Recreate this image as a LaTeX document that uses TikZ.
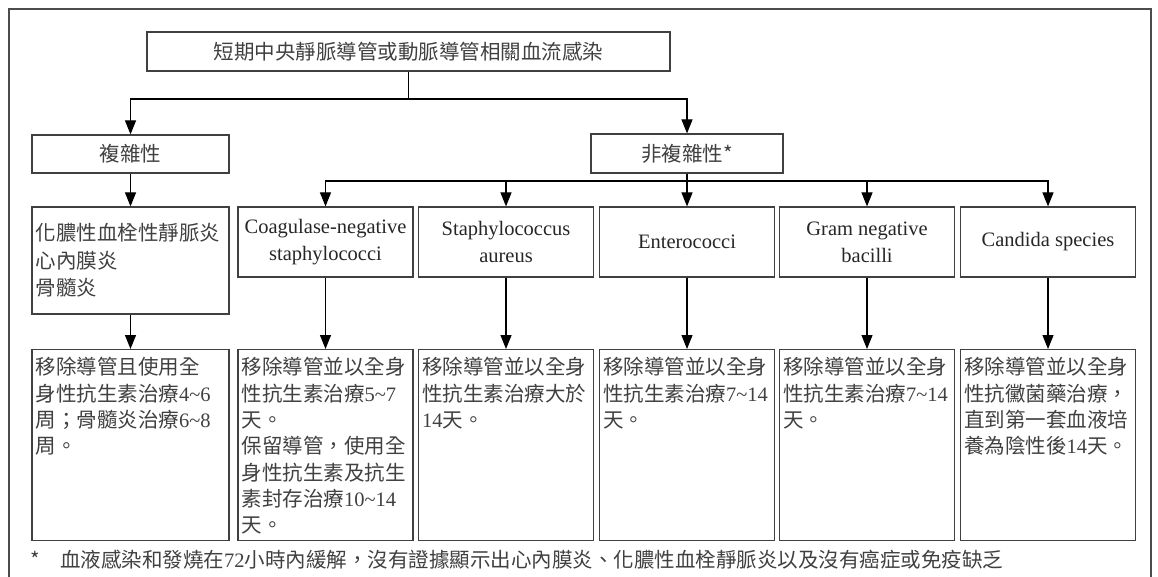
\documentclass[tikz,border=0pt]{standalone}
\usepackage{fontspec}
\setmainfont{Noto Sans CJK TC}
\newfontfamily\latin{Liberation Serif}
\newcommand\tms[1]{{\latin #1}}
\usetikzlibrary{arrows.meta}
\usetikzlibrary{math}

\tikzset{
  frame/.style={draw=black!70, line width=1.2pt},
  box/.style={draw=black!75, line width=1.2pt, rectangle, inner sep=0pt, text=black!75,
    font=\fontsize{20.5}{27.3}\selectfont},
  catbox/.style={box, minimum width=175, minimum height=70, align=center, text=black!85,
    font=\latin\fontsize{20.5}{27.3}\selectfont},
  treat/.style={box, anchor=north, minimum width=175, minimum height=191,
    inner xsep=3.5pt, inner ysep=3pt, font=\fontsize{20.5}{26.3}\selectfont},
  wire/.style={black, line width=1.2pt},
  link/.style={wire, -{Triangle[length=14pt,width=11pt]}},
}
\newcommand\toptext[2][168pt]{\parbox[c][185pt][t]{#1}{\vspace*{5pt}#2}}

\begin{document}
\begin{tikzpicture}[x=1pt,y=-1pt]
      \tikzmath{
        \yCat = 242;
        \yTreat = 349;
        \xA = 325.5;
        \xB = 506;
        \xC = 687;
        \xD = 867;
        \xE = 1048;
      }

      \useasboundingbox (0,0) rectangle (1158,577);
      \draw[frame] (9,577) -- (9,9) -- (1151,9) -- (1151,577);

      % top levels
      \node[box, minimum width=523, minimum height=39] (main) at (408.5,51.5)
        {短期中央靜脈導管或動脈導管相關血流感染};
      \node[box, minimum width=197, minimum height=38] (cpx) at (130.5,154) {複雜性};
      \node[box, minimum width=192, minimum height=39] (ncpx) at (687,153.5) {非複雜性*};

      % complicated branch
      \node[box, minimum width=197, minimum height=107, align=left, text width=190pt,
        inner xsep=3.5pt] (sev) at (130.5,260.5)
        {化膿性血栓性靜脈炎\\心內膜炎\\骨髓炎};
      \node[treat, minimum width=197] (tsev) at (130.5,\yTreat)
        {\toptext[190pt]{移除導管且使用全\\身性抗生素治療\tms{4\textasciitilde6}\\周；骨髓炎治療\tms{6\textasciitilde8}\\周。}};

      % organisms
      \node[catbox] (c1) at (\xA,\yCat) {Coagulase-negative\\staphylococci};
      \node[catbox] (c2) at (\xB,\yCat) {Staphylococcus\\aureus};
      \node[catbox] (c3) at (\xC,\yCat) {Enterococci};
      \node[catbox] (c4) at (\xD,\yCat) {Gram negative\\bacilli};
      \node[catbox] (c5) at (\xE,\yCat) {Candida species};

      % treatments
      \node[treat] (t1) at (\xA,\yTreat) {\toptext{移除導管並以全身\\性抗生素治療\tms{5\textasciitilde7}\\天。\\保留導管，使用全\\身性抗生素及抗生\\素封存治療\tms{10\textasciitilde14}\\天。}};
      \node[treat] (t2) at (\xB,\yTreat) {\toptext{移除導管並以全身\\性抗生素治療大於\\\tms{14}天。}};
      \node[treat] (t3) at (\xC,\yTreat) {\toptext{移除導管並以全身\\性抗生素治療\tms{7\textasciitilde14}\\天。}};
      \node[treat] (t4) at (\xD,\yTreat) {\toptext{移除導管並以全身\\性抗生素治療\tms{7\textasciitilde14}\\天。}};
      \node[treat] (t5) at (\xE,\yTreat) {\toptext{移除導管並以全身\\性抗黴菌藥治療，\\直到第一套血液培\\養為陰性後\tms{14}天。}};

      \node[anchor=west, inner sep=0pt, text=black!75, font=\fontsize{20.5}{27.3}\selectfont]
        (note) at (30,560) {\makebox[30pt][l]{*}血液感染和發燒在\tms{72}小時內緩解，沒有證據顯示出心內膜炎、化膿性血栓靜脈炎以及沒有癌症或免疫缺乏};

      % connectors
      \coordinate (j1) at (408.5,99);
      \draw[wire] (main.south) -- (j1);
      \draw[link] (j1) -| (cpx.north);
      \draw[link] (j1) -| (ncpx.north);
      \draw[link] (cpx) -- (sev);
      \draw[link] (sev) -- (tsev);

      \coordinate (j2) at (687,181);
      \draw[wire] (ncpx.south) -- (j2);
      \foreach \c in {c1,c2,c3,c4,c5}
        \draw[link] (j2) -| (\c.north);
      \foreach \c/\t in {c1/t1,c2/t2,c3/t3,c4/t4,c5/t5}
        \draw[link] (\c) -- (\t);
\end{tikzpicture}
\end{document}
